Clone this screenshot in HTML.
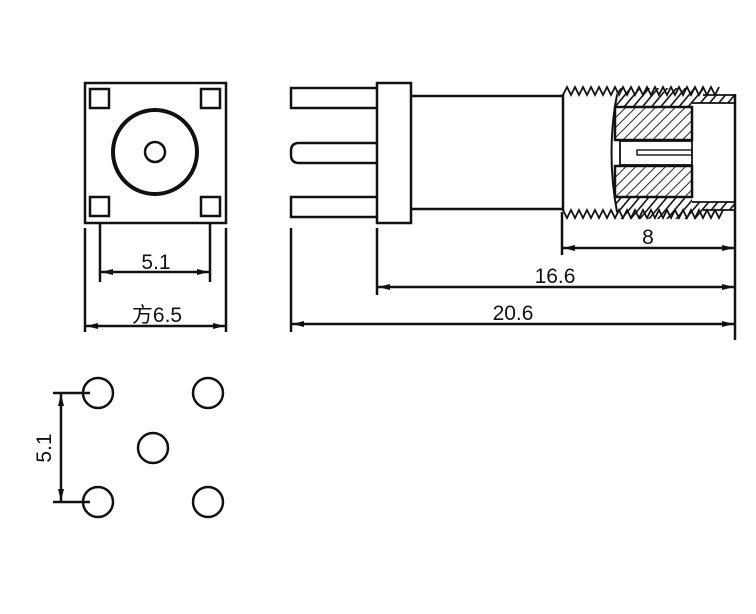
<!DOCTYPE html>
<html><head><meta charset="utf-8"><style>
html,body{margin:0;padding:0;background:#fff;}
svg{display:block;}
text{font-family:"Liberation Sans","Noto Sans CJK SC",sans-serif;fill:#111;}
</style></head><body>
<svg width="756" height="614" viewBox="0 0 756 614" xmlns="http://www.w3.org/2000/svg">
<defs>
<pattern id="h" width="7" height="7" patternUnits="userSpaceOnUse" patternTransform="rotate(45)">
<line x1="0" y1="0" x2="0" y2="7" stroke="#111" stroke-width="1.8"/>
</pattern>
<pattern id="h2" width="7" height="7" patternUnits="userSpaceOnUse" patternTransform="rotate(40)">
<line x1="0" y1="0" x2="0" y2="7" stroke="#111" stroke-width="3.2"/>
</pattern>
<marker id="a" viewBox="0 0 12 6" refX="12" refY="3" markerWidth="12" markerHeight="6" orient="auto-start-reverse" markerUnits="userSpaceOnUse">
<path d="M0,0 L12,3 L0,6 Z" fill="#111"/>
</marker>
</defs>
<g stroke="#111" fill="none" stroke-width="2.5">
<!-- front view -->
<rect x="85" y="83" width="141" height="140"/>
<rect x="90" y="89" width="19" height="19"/>
<rect x="201" y="89" width="19" height="19"/>
<rect x="90" y="197" width="19" height="19"/>
<rect x="201" y="197" width="19" height="19"/>
<circle cx="155" cy="152" r="42" stroke-width="4"/>
<circle cx="155" cy="152" r="10"/>
<!-- front dims -->
<line x1="100" y1="223" x2="100" y2="282"/>
<line x1="210" y1="223" x2="210" y2="282"/>
<line x1="101" y1="272" x2="209" y2="272" marker-start="url(#a)" marker-end="url(#a)"/>
<line x1="85" y1="228" x2="85" y2="332"/>
<line x1="226" y1="228" x2="226" y2="332"/>
<line x1="86" y1="326" x2="225" y2="326" marker-start="url(#a)" marker-end="url(#a)"/>
<!-- holes -->
<circle cx="98" cy="393" r="15"/>
<circle cx="208" cy="393" r="15"/>
<circle cx="153" cy="448" r="15"/>
<circle cx="98" cy="502" r="15"/>
<circle cx="208" cy="502" r="15"/>
<line x1="53" y1="393" x2="90" y2="393"/>
<line x1="53" y1="502" x2="90" y2="502"/>
<line x1="61" y1="394" x2="61" y2="501" marker-start="url(#a)" marker-end="url(#a)"/>
<!-- side view pins -->
<rect x="291" y="88" width="87" height="20"/>
<path d="M378,143 H299 Q291,143 291,151 V155 Q291,163 299,163 H378"/>
<rect x="291" y="197" width="87" height="20"/>
<rect x="377" y="83" width="34" height="140" fill="#fff"/>
<line x1="411" y1="96" x2="563" y2="96"/>
<line x1="411" y1="209" x2="563" y2="209"/>
<line x1="563" y1="94" x2="563" y2="211"/>
<!-- hatched thread regions -->
<path d="M617,88 L703,88 L703,95 L735,95 L735,103 L692,103 L692,107 L615,107 Z" fill="url(#h2)" stroke-width="0"/>
<path d="M615,198 L692,198 L692,202 L735,202 L735,210 L703,210 L703,219 L617,219 Z" fill="url(#h2)" stroke-width="0"/>
<!-- threads -->
<path d="M563,95 l4,-8 l4,8 l4,-8 l4,8 l4,-8 l4,8 l4,-8 l4,8 l4,-8 l4,8 l4,-8 l4,8 l4,-8 l4,8 l4,-8 l4,8 l4,-8 l4,8 l4,-8 l4,8 l4,-8 l4,8 l4,-8 l4,8 l4,-8 l4,8 l4,-8 l4,8 l4,-8 l4,8 l4,-8 l4,8 l4,-8 l4,8 l4,-8 l4,8 l4,-8 l4,8 l4,-8" stroke-width="1.8"/>
<path d="M563,210 l4,8 l4,-8 l4,8 l4,-8 l4,8 l4,-8 l4,8 l4,-8 l4,8 l4,-8 l4,8 l4,-8 l4,8 l4,-8 l4,8 l4,-8 l4,8 l4,-8 l4,8 l4,-8 l4,8 l4,-8 l4,8 l4,-8 l4,8 l4,-8 l4,8 l4,-8 l4,8 l4,-8 l4,8 l4,-8 l4,8 l4,-8 l4,8 l4,-8 l4,8 l4,-8 l4,8 l4,-8" stroke-width="1.8"/>
<line x1="703" y1="95" x2="735" y2="95" stroke-width="1.8"/>
<line x1="692" y1="103" x2="735" y2="103" stroke-width="1.8"/>
<line x1="692" y1="202" x2="735" y2="202" stroke-width="1.8"/>
<line x1="703" y1="210" x2="735" y2="210" stroke-width="1.8"/>
<!-- inner block -->
<rect x="615" y="107" width="77" height="33" fill="url(#h)"/>
<rect x="615" y="166" width="77" height="31" fill="url(#h)"/>
<path d="M617,95 Q606,152 617,212" stroke-width="2"/>
<rect x="620" y="141" width="72" height="24" fill="#fff" stroke-width="1.8"/>
<rect x="637" y="150" width="55" height="5" stroke-width="1.4"/>
<line x1="735" y1="94" x2="735" y2="340"/>
<!-- side dims -->
<line x1="291" y1="228" x2="291" y2="332"/>
<line x1="377" y1="228" x2="377" y2="295"/>
<line x1="562" y1="212" x2="562" y2="255"/>
<line x1="563" y1="248" x2="734" y2="248" marker-start="url(#a)" marker-end="url(#a)"/>
<line x1="378" y1="287" x2="734" y2="287" marker-start="url(#a)" marker-end="url(#a)"/>
<line x1="292" y1="324" x2="734" y2="324" marker-start="url(#a)" marker-end="url(#a)"/>
</g>
<g font-size="21" text-anchor="middle">
<text x="156" y="269">5.1</text>
<text x="157" y="322">方6.5</text>
<text x="648" y="244">8</text>
<text x="555" y="283">16.6</text>
<text x="513" y="320">20.6</text>
<text transform="translate(51,448) rotate(-90)">5.1</text>
</g>
</svg>
</body></html>
